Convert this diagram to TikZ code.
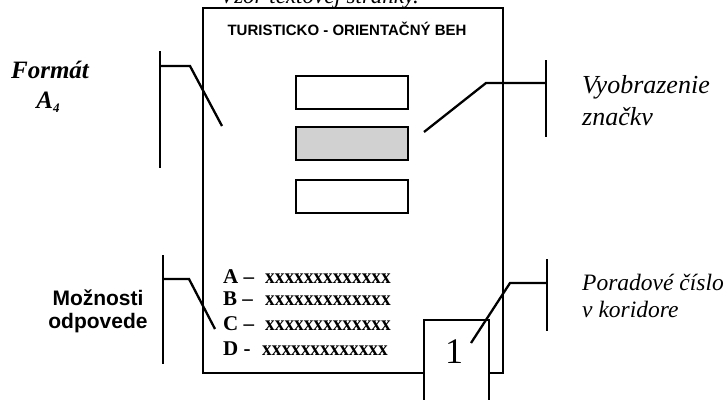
\documentclass[tikz,border=0pt]{standalone}
\usepackage{fontspec}
\setmainfont{Liberation Serif}
\newfontfamily\arialfont{Liberation Sans}
\begin{document}
\begin{tikzpicture}[x=1pt,y=-1pt,
  outline/.style={line width=1.8pt, line join=miter},
  leader/.style={line width=2.3pt},
  field/.style={draw, line width=2pt, minimum width=112pt, minimum height=33pt, inner sep=0pt},
  callout/.style={font=\fontsize{26}{30}\selectfont\itshape, anchor=base west, inner sep=0pt},
  callsm/.style={font=\fontsize{23.5}{28}\selectfont\itshape, anchor=base west, inner sep=0pt},
  optlabel/.style={font=\fontsize{21}{24}\selectfont\bfseries, anchor=base west, inner sep=0pt},
  optx/.style={font=\fontsize{21}{24}\selectfont\bfseries, anchor=base west, inner sep=0pt, xscale=0.92}]
\useasboundingbox (0,0) rectangle (728,399);
\clip (0,0) rectangle (728,399);
% cut-off heading above the page
\node[font=\fontsize{23}{28}\selectfont\itshape, anchor=base west, inner sep=0pt] (head) at (220,3) {Vzor textovej stránky.};
% page outline
\draw[outline] (424,373) -- (203,373) -- (203,8) -- (503,8) -- (503,373) -- (489,373);
% number tab
\draw[outline] (424,405) -- (424,320) -- (489,320) -- (489,405);
\node[font=\fontsize{36}{36}\selectfont, inner sep=0pt] (num) at (454,352) {1};
% title
\node[font=\arialfont\fontsize{15}{18}\selectfont\bfseries, anchor=base, inner sep=0pt] (title) at (347,35) {TURISTICKO - ORIENTAČNÝ BEH};
% fields
\node[field] (f1) at (352,92.5) {};
\node[field, fill=black!18] (f2) at (352,143.5) {};
\node[field] (f3) at (352,196) {};
% options
\node[optlabel] (la) at (223,283) {A –};
\node[optx] (xa) at (265,283) {xxxxxxxxxxxxx};
\node[optlabel] (lb) at (223,305) {B –};
\node[optx] (xb) at (265,305) {xxxxxxxxxxxxx};
\node[optlabel] (lc) at (223,330) {C –};
\node[optx] (xc) at (265,330) {xxxxxxxxxxxxx};
\node[optlabel] (ld) at (223,355) {D -};
\node[optx] (xd) at (262,355) {xxxxxxxxxxxxx};
% callout labels
\node[font=\fontsize{25}{28}\selectfont\bfseries\itshape, anchor=base, inner sep=0pt] (fmt) at (50,78) {Formát};
\node[font=\fontsize{25}{28}\selectfont\bfseries\itshape, anchor=base, inner sep=0pt] (a4) at (48,108) {A\raisebox{-4pt}{\fontsize{13}{13}\selectfont 4}};
\node[callout] (vyo1) at (582,93) {Vyobrazenie};
\node[callout] (vyo2) at (582,125) {značkv};
\node[callsm] (por1) at (582,290) {Poradové číslo};
\node[callsm] (por2) at (582,317) {v koridore};
\node[font=\arialfont\fontsize{21}{24}\selectfont\bfseries, anchor=base, inner sep=0pt] (moz1) at (98,305) {Možnosti};
\node[font=\arialfont\fontsize{21}{24}\selectfont\bfseries, anchor=base, inner sep=0pt] (moz2) at (98,328) {odpovede};
% leaders
\coordinate (fA) at (160,51); \coordinate (fB) at (160,168);
\coordinate (fK) at (190,66); \coordinate (fE) at (222,126);
\draw[leader] (fA) -- (fB);
\draw[leader] (fA |- fK) -- (fK) -- (fE);
\coordinate (vA) at (546,60); \coordinate (vB) at (546,137);
\coordinate (vK) at (486,83); \coordinate (vE) at (424,132);
\draw[leader] (vA) -- (vB);
\draw[leader] (vA |- vK) -- (vK) -- (vE);
\coordinate (mA) at (163,255); \coordinate (mB) at (163,364);
\coordinate (mK) at (189,279); \coordinate (mE) at (215,329);
\draw[leader] (mA) -- (mB);
\draw[leader] (mA |- mK) -- (mK) -- (mE);
\coordinate (pA) at (547,259); \coordinate (pB) at (547,331);
\coordinate (pK) at (510,283); \coordinate (pE) at (471,343);
\draw[leader] (pA) -- (pB);
\draw[leader] (pA |- pK) -- (pK) -- (pE);
\end{tikzpicture}
\end{document}
